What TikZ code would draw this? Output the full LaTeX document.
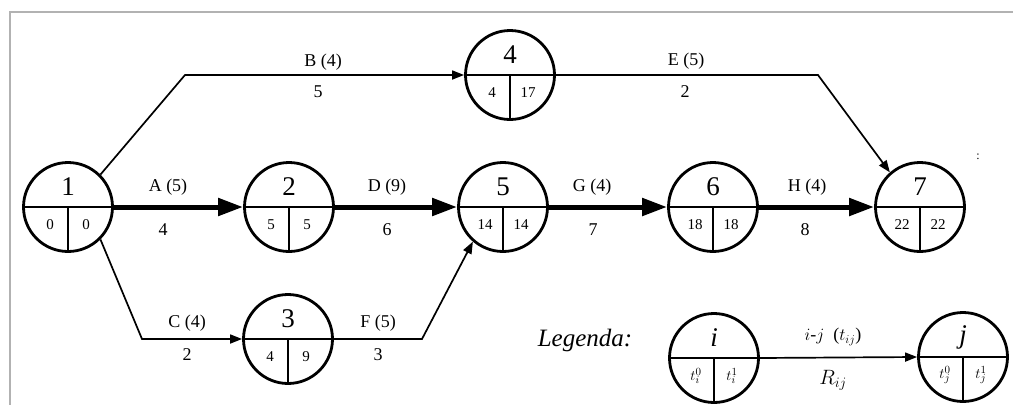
\documentclass[tikz,border=0pt]{standalone}
\usepackage{fontspec}
\setmainfont{Liberation Serif}
\usetikzlibrary{arrows.meta}
\tikzset{
  circ/.style={circle,draw,line width=2.8pt,minimum size=89pt,inner sep=0pt},
  hdiv/.style={line width=2.8pt},
  vdiv/.style={line width=1.6pt},
  crit/.style={line width=5pt,-{Triangle[length=25pt,width=17pt]}},
  act/.style={line width=1.7pt,-{Triangle[length=12pt,width=9pt]}},
  num/.style={inner sep=0pt,font=\fontsize{27}{27}\selectfont},
  sm/.style={inner sep=0pt,font=\fontsize{15}{15}\selectfont},
  lab/.style={inner sep=0pt,font=\fontsize{18}{18}\selectfont},
  frame/.style={draw=black!30,line width=1.8pt}
}
\newcommand\pnode[6]{%
  \node[circ] (#1) at (#2,#3) {};
  \draw[hdiv] (#1.west) -- (#1.east);
  \draw[vdiv] (#1.center) -- (#1.south);
  \node[num] (#1n) at ([yshift=20pt]#1.center) {#4};
  \node[sm] (#1a) at ([xshift=-18pt,yshift=-18pt]#1.center) {#5};
  \node[sm] (#1b) at ([xshift=18pt,yshift=-18pt]#1.center) {#6};
}
\begin{document}
\begin{tikzpicture}[x=1pt,y=-1pt]
\useasboundingbox (0,0) rectangle (1013,405);
\fill[white] (0,0) rectangle (1013,405);
\draw[frame] (1013,12) -- (10,12) -- (10,405);

\pnode{n1}{68}{207}{1}{0}{0}
\pnode{n2}{289}{207}{2}{5}{5}
\pnode{n3}{288}{339}{3}{4}{9}
\pnode{n4}{510}{75}{4}{4}{17}
\pnode{n5}{503}{207}{5}{14}{14}
\pnode{n6}{713}{207}{6}{18}{18}
\pnode{n7}{920}{207}{7}{22}{22}
\pnode{ni}{714}{358}{\textit{i}}{$t_i^0$}{$t_i^1$}
\pnode{nj}{963}{357}{\textit{j}}{$t_j^0$}{$t_j^1$}

% corner points
\coordinate (cB) at (185,75);
\coordinate (cE) at (818,75);
\coordinate (cC) at (142,339);
\coordinate (cF) at (422,339);

% critical activities
\draw[crit] (n1.east) -- (n2.west);
\draw[crit] (n2.east) -- (n5.west);
\draw[crit] (n5.east) -- (n6.west);
\draw[crit] (n6.east) -- (n7.west);
% other activities
\draw[act] (n1.45) -- (cB) -- (n4.west);
\draw[act] (n4.east) -- (cE) -- (n7.131);
\draw[act] (n1.-45) -- (cC) -- (n3.west);
\draw[act] (n3.east) -- (cF) -- (n5.229);
\draw[act] (ni.east) -- (nj.west);

% labels
\node[lab] (lA) at (168,187) {A (5)};
\node[lab] (rA) at (163,230) {4};
\node[lab] (lD) at (387,187) {D (9)};
\node[lab] (rD) at (387,230) {6};
\node[lab] (lG) at (592,187) {G (4)};
\node[lab] (rG) at (593,230) {7};
\node[lab] (lH) at (807,187) {H (4)};
\node[lab] (rH) at (805,230) {8};
\node[lab] (lB) at (323,62) {B (4)};
\node[lab] (rB) at (318,92) {5};
\node[lab] (lE) at (686,61) {E (5)};
\node[lab] (rE) at (685,92) {2};
\node[lab] (lC) at (187,323) {C (4)};
\node[lab] (rC) at (187,355) {2};
\node[lab] (lF) at (378,323) {F (5)};
\node[lab] (rF) at (378,355) {3};

% legend
\node[inner sep=0pt,font=\fontsize{25}{25}\selectfont\itshape] (leg) at (585,340) {Legenda:};
\node[inner sep=0pt,font=\fontsize{18}{18}\selectfont] (lij) at (833,337) {$i$-$j$\ \ ($t_{ij}$)};
\node[inner sep=0pt,font=\fontsize{21}{21}\selectfont] (rij) at (833,380) {$R_{ij}$};

\node[inner sep=0pt,font=\fontsize{12}{12}\selectfont] (mark) at (978,157) {:};
\end{tikzpicture}
\end{document}
